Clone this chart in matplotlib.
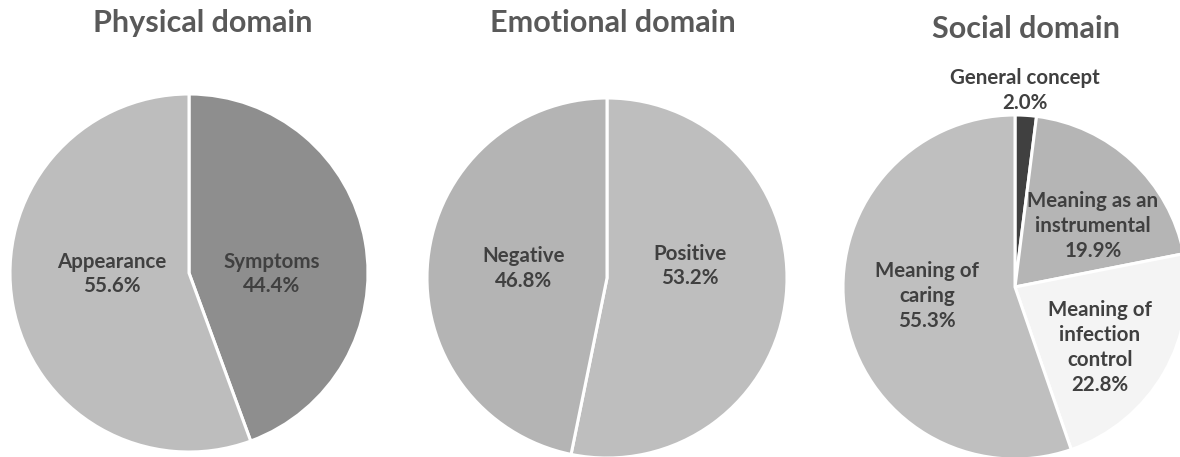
import matplotlib
matplotlib.use("Agg")
import matplotlib.pyplot as plt

# ---- data ----
titles = ["Physical domain", "Emotional domain", "Social domain"]

physical_labels = ["Symptoms", "Appearance"]
physical_values = [44.4, 55.6]

emotional_labels = ["Positive", "Negative"]
emotional_values = [53.2, 46.8]

social_labels = ["General concept", "Meaning as an\ninstrumental",
                 "Meaning of\ninfection\ncontrol", "Meaning of\ncaring"]
social_values = [2.0, 19.9, 22.8, 55.3]

# ---- styling / layout ----
W, H = 1180, 457
physical_colors = ["#8e8e8e", "#bdbdbd"]
emotional_colors = ["#bebebe", "#b4b4b4"]
social_colors = ["#404040", "#b5b5b5", "#f4f4f4", "#bfbfbf"]

# pie centers/radii in pixel layout (y measured from top)
layout = [
    dict(cx=189, cy=273, r=179, title_xy=(203, 23)),
    dict(cx=607, cy=278, r=180, title_xy=(613, 23)),
    dict(cx=1015, cy=287, r=172, title_xy=(1026, 29)),
]
# label offsets in units of radius (dx, dy up)
physical_offsets = [(0.464, -0.006), (-0.43, -0.006)]
emotional_offsets = [(0.461, 0.067), (-0.461, 0.053)]
social_offsets = [(0.058, 1.142), (0.453, 0.355), (0.494, -0.352), (-0.512, -0.052)]

FONT = "Lato"
TITLE_COLOR = "#595959"
LABEL_COLOR = "#404040"

fig = plt.figure(figsize=(W / 100, H / 100), dpi=100)
ax = fig.add_axes([0, 0, 1, 1])

datasets = [
    (physical_labels, physical_values, physical_colors, physical_offsets),
    (emotional_labels, emotional_values, emotional_colors, emotional_offsets),
    (social_labels, social_values, social_colors, social_offsets),
]

for (labels, values, colors, offsets), lay, title in zip(datasets, layout, titles):
    cx, cy, r = lay["cx"], H - lay["cy"], lay["r"]
    ax.pie(values, colors=colors, startangle=90, counterclock=False,
           center=(cx, cy), radius=r,
           wedgeprops=dict(edgecolor="white", linewidth=2.2))
    total = sum(values)
    for lab, val, (dx, dy) in zip(labels, values, offsets):
        ax.text(cx + dx * r, cy + dy * r, f"{lab}\n{val / total * 100:.1f}%",
                ha="center", va="center", fontsize=14.8, fontweight="bold",
                color=LABEL_COLOR, family=FONT, linespacing=1.3)
    tx, ty = lay["title_xy"]
    ax.text(tx, H - ty, title, ha="center", va="center", fontsize=22,
            fontweight="bold", color=TITLE_COLOR, family=FONT)

ax.set_xlim(0, W)
ax.set_ylim(0, H)
ax.set_aspect("equal")
ax.axis("off")

fig.savefig("out.png", dpi=100, facecolor="white")
